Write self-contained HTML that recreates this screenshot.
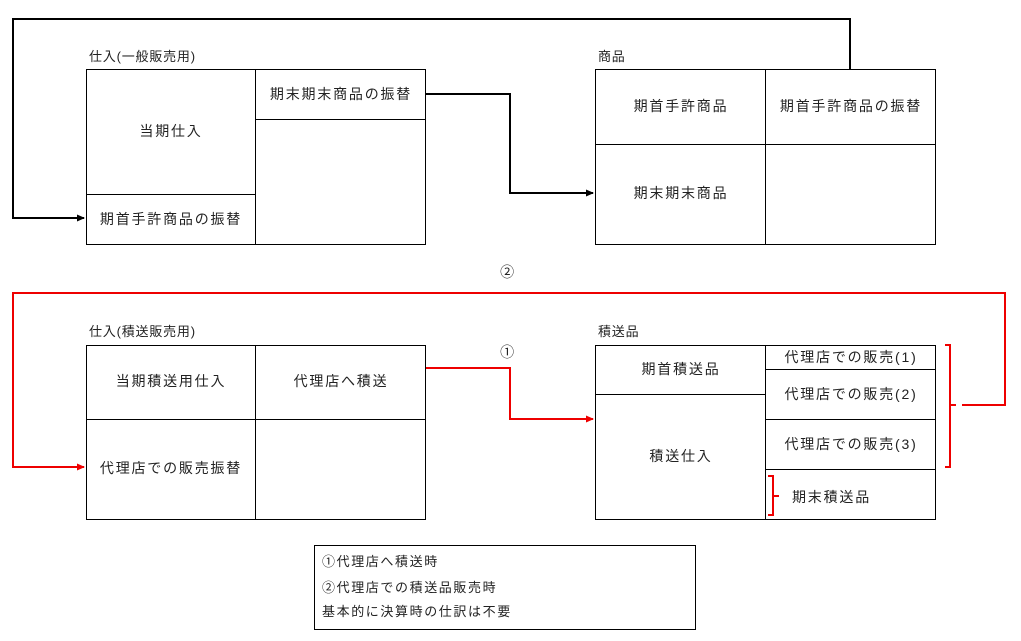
<!DOCTYPE html>
<html><head><meta charset="utf-8"><style>
html,body{margin:0;padding:0;background:#fff}
svg{display:block}
text{font-family:"Liberation Sans","Noto Sans CJK JP",sans-serif;font-size:14px;fill:#222;letter-spacing:1.8px}
.t{font-size:13px;letter-spacing:0.8px}
.l{font-size:13px;letter-spacing:1.6px}
</style></head><body>
<svg width="1021" height="641" viewBox="0 0 1021 641" xmlns="http://www.w3.org/2000/svg">
<defs>
<marker id="ab" markerWidth="8" markerHeight="8" refX="7" refY="4" orient="auto" markerUnits="userSpaceOnUse"><path d="M0,0.5 L8,4 L0,7.5z" fill="#000"/></marker>
<marker id="ar" markerWidth="8" markerHeight="8" refX="7" refY="4" orient="auto" markerUnits="userSpaceOnUse"><path d="M0,0.5 L8,4 L0,7.5z" fill="#e00"/></marker>
</defs>
<g fill="none" stroke="#000" stroke-width="1">
<rect x="86.5" y="69.5" width="339" height="175"/>
<line x1="255.5" y1="69" x2="255.5" y2="244"/>
<line x1="86" y1="194.5" x2="255" y2="194.5"/>
<line x1="255" y1="119.5" x2="425" y2="119.5"/>
<rect x="595.5" y="69.5" width="340" height="175"/>
<line x1="765.5" y1="69" x2="765.5" y2="244"/>
<line x1="595" y1="144.5" x2="935" y2="144.5"/>
<rect x="86.5" y="345.5" width="339" height="174"/>
<line x1="255.5" y1="345" x2="255.5" y2="519"/>
<line x1="86" y1="419.5" x2="425" y2="419.5"/>
<rect x="595.5" y="345.5" width="340" height="174"/>
<line x1="765.5" y1="345" x2="765.5" y2="519"/>
<line x1="595" y1="394.5" x2="765" y2="394.5"/>
<line x1="765" y1="369.5" x2="935" y2="369.5"/>
<line x1="765" y1="419.5" x2="935" y2="419.5"/>
<line x1="765" y1="469.5" x2="935" y2="469.5"/>
<rect x="314.5" y="545.5" width="381" height="84"/>
</g>
<g fill="none" stroke="#000" stroke-width="2">
<polyline points="850,69 850,19 13,19 13,218 84,218" marker-end="url(#ab)"/>
<polyline points="426,94 510,94 510,193 593,193" marker-end="url(#ab)"/>
</g>
<g fill="none" stroke="#e00" stroke-width="2">
<polyline points="426,368 510,368 510,419 593,419" marker-end="url(#ar)"/>
<polyline points="962,405 1005,405 1005,293 13,293 13,467 84,467" marker-end="url(#ar)"/>
<path d="M945,345 h5 v60 h6 M950,405 v62 h-5"/>
<path d="M768,476 h5 v20 h6 M773,496 v19 h-5"/>
</g>
<text class="t" x="89" y="61">仕入(一般販売用)</text>
<text class="t" x="598" y="61">商品</text>
<text class="t" x="89" y="336">仕入(積送販売用)</text>
<text class="t" x="598" y="336">積送品</text>
<g text-anchor="middle">
<text x="171" y="136">当期仕入</text>
<text x="171" y="224">期首手許商品の振替</text>
<text x="341" y="99">期末期末商品の振替</text>
<text x="681" y="111">期首手許商品</text>
<text x="851" y="111">期首手許商品の振替</text>
<text x="681" y="198">期末期末商品</text>
<text x="171" y="386">当期積送用仕入</text>
<text x="341" y="386">代理店へ積送</text>
<text x="171" y="473">代理店での販売振替</text>
<text x="681" y="374">期首積送品</text>
<text x="681" y="461">積送仕入</text>
<text x="851" y="362">代理店での販売(1)</text>
<text x="851" y="399">代理店での販売(2)</text>
<text x="851" y="449">代理店での販売(3)</text>
<text x="508" y="277">②</text>
<text x="508" y="357">①</text>
</g>
<text x="792" y="502">期末積送品</text>
<text class="l" x="322" y="566">①代理店へ積送時</text>
<text class="l" x="322" y="592">②代理店での積送品販売時</text>
<text class="l" x="322" y="616">基本的に決算時の仕訳は不要</text>
</svg>
</body></html>
